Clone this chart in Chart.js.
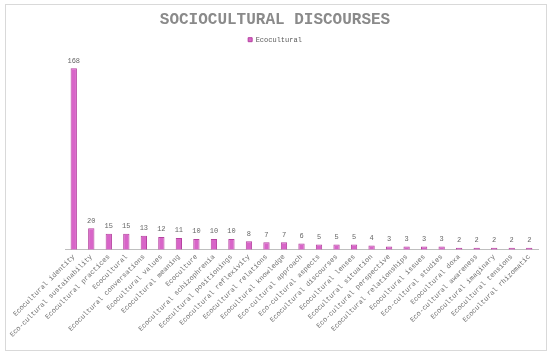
<!DOCTYPE html>
<html>
<head>
<meta charset="utf-8">
<script src="https://cdn.jsdelivr.net/npm/chart.js@4"></script>
<style>
  body { margin: 0; background: #fff; }
  #wrap { position: absolute; left: 5px; top: 4px; width: 540px; height: 345px; border: 1px solid #d9d9d9; }
</style>
</head>
<body>
<div id="wrap"><canvas id="chart" width="540" height="345"></canvas></div>
<script>
const categories = [
  'Ecocultural identity', 'Eco-cultural sustainability', 'Ecocultural practices', 'Ecocultural',
  'Ecocultural conversations', 'Ecocultural values', 'Ecocultural meaning', 'Ecoculture',
  'Ecocultural schizophrenia', 'Ecocultural positionings', 'Ecocultural reflexivity',
  'Ecocultural relations', 'Ecocultural knowledge', 'Eco-cultural approach', 'Eco-cultural aspects',
  'Ecocultural discourses', 'Ecocultural lenses', 'Ecocultural situation', 'Eco-cultural perspective',
  'Ecocultural relationships', 'Ecocultural issues', 'Eco-cultural studies', 'Ecocultural doxa',
  'Eco-cultural awareness', 'Ecocultural imaginary', 'Ecocultural tensions', 'Ecocultural rhizomatic'
];
const ecocultural = [168, 20, 15, 15, 13, 12, 11, 10, 10, 10, 8, 7, 7, 6, 5, 5, 5, 4, 3, 3, 3, 3, 2, 2, 2, 2, 2];

// value labels above each bar
const valueLabels = {
  id: 'valueLabels',
  afterDatasetsDraw(chart) {
    const ctx = chart.ctx;
    const meta = chart.getDatasetMeta(0);
    ctx.save();
    ctx.font = '7px "Liberation Mono", monospace';
    ctx.fillStyle = '#666';
    ctx.textAlign = 'center';
    ctx.textBaseline = 'bottom';
    meta.data.forEach((bar, i) => {
      ctx.fillText(ecocultural[i], bar.x, bar.y - 4);
    });
    ctx.restore();
  }
};

new Chart(document.getElementById('chart'), {
  type: 'bar',
  data: {
    labels: categories,
    datasets: [{
      label: 'Ecocultural',
      data: ecocultural,
      backgroundColor: '#d865c8',
      borderColor: '#b5429f',
      borderWidth: 1,
      barPercentage: 0.36,
      categoryPercentage: 1
    }]
  },
  options: {
    responsive: false,
    animation: false,
    layout: { padding: { left: 6, right: 8, top: 0, bottom: 8 } },
    scales: {
      x: {
        afterFit: s => { s.paddingLeft = 59; },
        grid: { display: false, drawTicks: false },
        border: { color: '#bfbfbf' },
        ticks: {
          minRotation: 45, maxRotation: 45, autoSkip: false, padding: 3,
          color: '#6f6f6f',
          font: { family: '"Liberation Mono", monospace', size: 7 }
        }
      },
      y: { display: false, min: 0, max: 182 }
    },
    plugins: {
      title: {
        display: true,
        text: 'SOCIOCULTURAL DISCOURSES',
        color: '#8a8a8a',
        font: { family: '"Liberation Mono", monospace', size: 16, weight: 'bold' },
        padding: { top: 5, bottom: 4 }
      },
      legend: {
        labels: {
          boxWidth: 4, boxHeight: 4, padding: 3,
          color: '#595959',
          font: { family: '"Liberation Mono", monospace', size: 7 }
        }
      },
      tooltip: { enabled: false }
    }
  },
  plugins: [valueLabels]
});
</script>
</body>
</html>
